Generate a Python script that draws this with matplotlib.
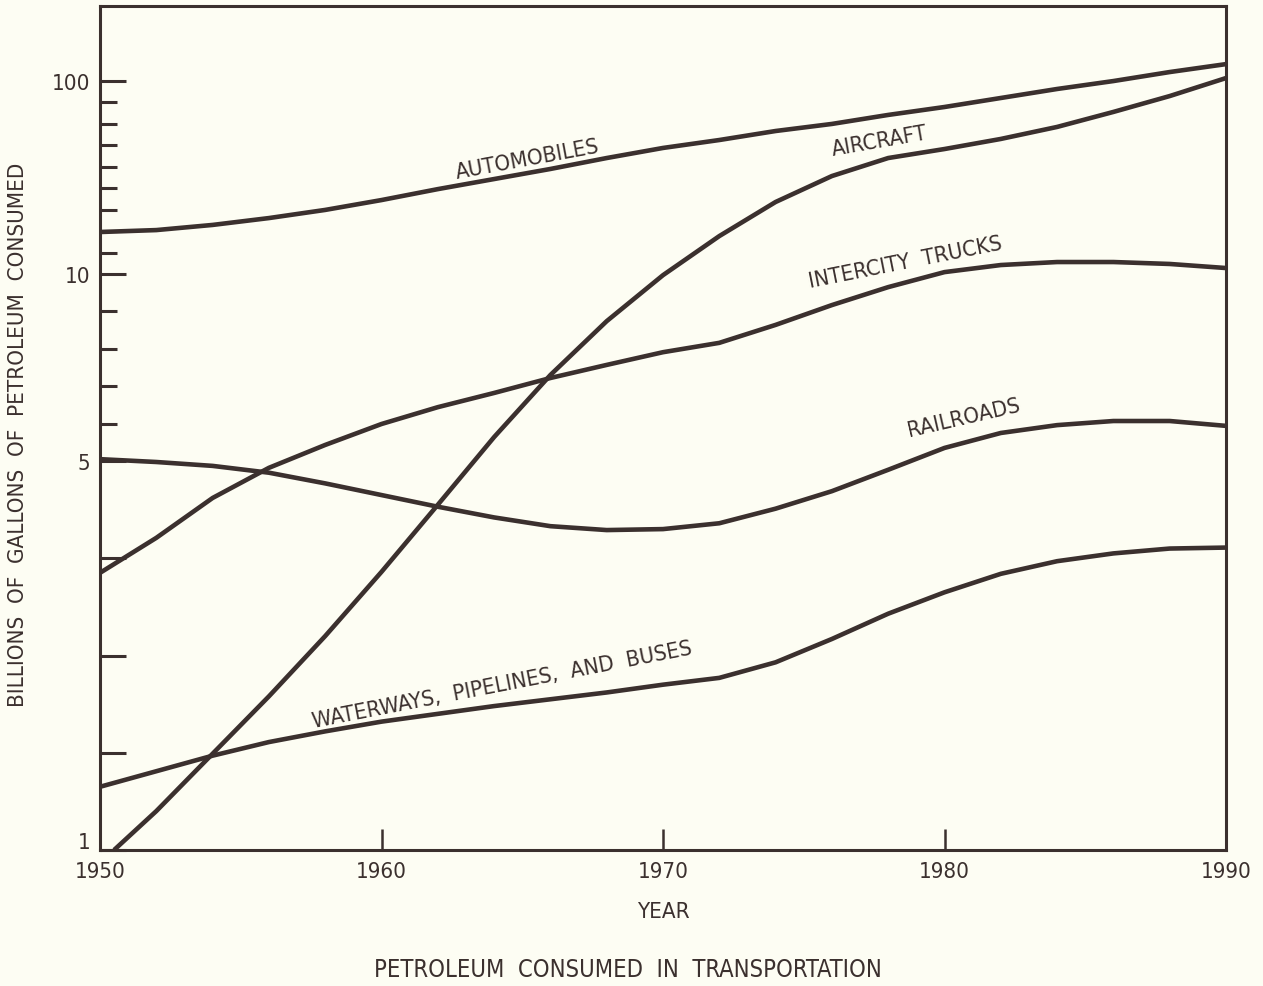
import matplotlib
matplotlib.use('Agg')
import matplotlib.pyplot as plt
from matplotlib.transforms import ScaledTranslation
import numpy as np

# Споживання нафтопродуктів транспортом, млрд галонів
years = [1950, 1952, 1954, 1956, 1958, 1960, 1962, 1964, 1966, 1968, 1970,
         1972, 1974, 1976, 1978, 1980, 1982, 1984, 1986, 1988, 1990]

auto_vals = [29.6, 30.5, 32.9, 36.1, 39.9, 44.5, 49.6, 54.3, 59.0, 64.1, 68.8,
             72.5, 76.7, 80.0, 84.2, 87.9, 92.1, 96.3, 100.0, 104.2, 107.9]

# Авіація починається трохи пізніше 1950 р.
air_years = [1950.5, 1952, 1954, 1956, 1958, 1960, 1962, 1964, 1966, 1968, 1970,
             1972, 1974, 1976, 1978, 1980, 1982, 1984, 1986, 1988, 1990]
air_vals = [1.0, 1.40, 1.99, 2.58, 3.20, 3.86, 4.55, 5.64, 7.30, 8.74, 9.97,
            27.7, 43.6, 55.7, 64.1, 68.3, 73.0, 78.6, 85.6, 93.0, 101.4]

truck_vals = [3.85, 4.21, 4.62, 4.93, 5.43, 5.99, 6.44, 6.82, 7.22, 7.57, 7.91,
              8.16, 8.64, 9.17, 9.65, 10.9, 14.2, 15.6, 15.6, 14.7, 12.8]

rail_vals = [5.05, 4.99, 4.95, 4.88, 4.77, 4.65, 4.53, 4.42, 4.33, 4.29, 4.30,
             4.36, 4.51, 4.69, 4.91, 5.35, 5.75, 5.96, 6.07, 6.07, 5.94]

water_vals = [1.65, 1.81, 1.97, 2.11, 2.22, 2.32, 2.40, 2.48, 2.55, 2.62, 2.70,
              2.77, 2.93, 3.17, 3.43, 3.65, 3.84, 3.97, 4.05, 4.10, 4.11]

# Вузли нерівномірної шкали осі Y (значення -> умовні одиниці висоти)
scale_vals = np.array([1.0, 5.0, 10.0, 100.0])
scale_pos = np.array([0.0, 389.0, 576.0, 769.0])
slope_lo = (scale_pos[1] - scale_pos[0]) / (scale_vals[1] - scale_vals[0])
slope_hi = (scale_pos[3] - scale_pos[2]) / (scale_vals[3] - scale_vals[2])


def forward(v):
    v = np.asarray(v, dtype=float)
    p = np.interp(v, scale_vals, scale_pos)
    p = np.where(v > scale_vals[-1], scale_pos[-1] + (v - scale_vals[-1]) * slope_hi, p)
    p = np.where(v < scale_vals[0], scale_pos[0] + (v - scale_vals[0]) * slope_lo, p)
    return p


def inverse(p):
    p = np.asarray(p, dtype=float)
    v = np.interp(p, scale_pos, scale_vals)
    v = np.where(p > scale_pos[-1], scale_vals[-1] + (p - scale_pos[-1]) / slope_hi, v)
    v = np.where(p < scale_pos[0], scale_vals[0] + (p - scale_pos[0]) / slope_lo, v)
    return v


bg = '#fdfdf3'
ink = '#3b302e'
plt.rcParams['font.family'] = ['Liberation Sans Narrow', 'DejaVu Sans']
plt.rcParams['font.stretch'] = 'condensed'
fs = 16

fig = plt.figure(figsize=(12.63, 9.87), dpi=100, facecolor=bg)
ax = fig.add_axes([100 / 1263, 136 / 987, 1126 / 1263, 844 / 987])
ax.set_facecolor(bg)
ax.set_yscale('function', functions=(forward, inverse))
ax.set_xlim(1950, 1990)
ax.set_ylim(1, 135)

line_kw = dict(color=ink, lw=3.3, solid_capstyle='butt', solid_joinstyle='round')
ax.plot(years, auto_vals, **line_kw)
ax.plot(air_years, air_vals, **line_kw)
ax.plot(years, truck_vals, **line_kw)
ax.plot(years, rail_vals, **line_kw)
ax.plot(years, water_vals, **line_kw)

# Підписи кривих
lbl = dict(color=ink, fontsize=fs, ha='center', va='center', rotation_mode='anchor')
ax.text(1965.2, 63.6, 'AUTOMOBILES', rotation=10.5, **lbl)
ax.text(1977.7, 72.0, 'AIRCRAFT', rotation=10, **lbl)
ax.text(1978.6, 15.6, 'INTERCITY  TRUCKS', rotation=11.3, **lbl)
ax.text(1980.7, 6.18, 'RAILROADS', rotation=13, **lbl)
ax.text(1964.3, 2.70, 'WATERWAYS,  PIPELINES,  AND  BUSES', rotation=11, **lbl)

for s in ax.spines.values():
    s.set_color(ink)
    s.set_linewidth(2.2)

# Осі та поділки
ax.set_xticks([1950, 1960, 1970, 1980, 1990])
ax.set_xticklabels(['1950', '1960', '1970', '1980', '1990'], fontsize=fs, color=ink)
ax.tick_params(axis='x', direction='in', length=15, width=1.8, color=ink, pad=8)

ax.set_yticks([1, 2, 3, 4, 5, 10, 100])
ax.set_yticklabels(['1', '', '', '', '5', '10', '100'], fontsize=fs, color=ink)
ax.set_yticks([6, 7, 8, 9, 20, 30, 40, 50, 60, 70, 80, 90], minor=True)
ax.tick_params(axis='y', which='major', direction='in', length=19, width=2.2, color=ink, pad=7)
ax.tick_params(axis='y', which='minor', direction='in', length=12, width=2.2, color=ink)

# Підпис «1» трохи вище нижньої межі, щоб не заходив на 1950
one = ax.get_yticklabels()[0]
one.set_transform(one.get_transform() + ScaledTranslation(0, 7 / 72, fig.dpi_scale_trans))

ax.set_xlabel('YEAR', fontsize=fs, color=ink, labelpad=14)
fig.text(18 / 1263, 1 - 435 / 987, 'BILLIONS  OF  GALLONS  OF  PETROLEUM  CONSUMED',
         rotation=90, ha='center', va='center', fontsize=fs, color=ink)
fig.text(628 / 1263, 1 - 970 / 987, 'PETROLEUM  CONSUMED  IN  TRANSPORTATION',
         ha='center', va='center', fontsize=fs + 1, color=ink)

fig.savefig('out.png', dpi=100, facecolor=bg)
